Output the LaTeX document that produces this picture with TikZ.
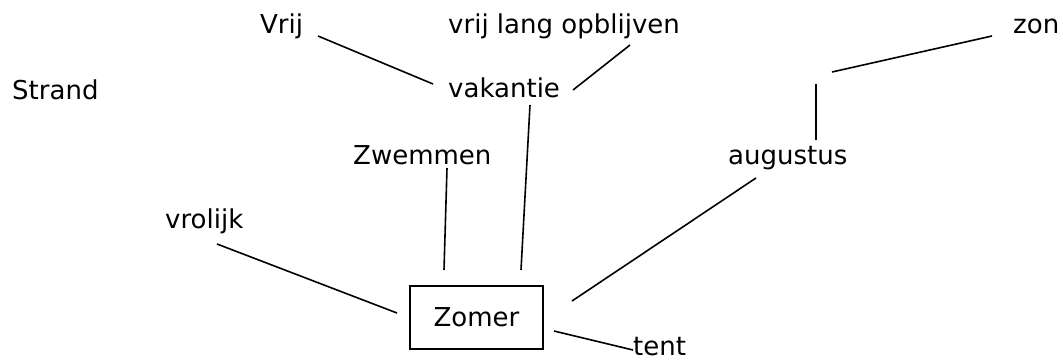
\documentclass[tikz,border=0pt]{standalone}
\usepackage{fontspec}
\setmainfont{DejaVu Sans}
\begin{document}
\begin{tikzpicture}[x=1pt,y=-1pt,
  lbl/.style={anchor=base west,inner sep=0pt,font=\fontsize{26}{30}\selectfont},
  conn/.style={line width=1.6pt,black},
  boxed/.style={draw,line width=1.4pt,minimum width=133pt,minimum height=63pt,inner sep=0pt,font=\fontsize{26}{30}\selectfont}]
\useasboundingbox (0,0) rectangle (1063,359);
\node[lbl] (vrij) at (260,33) {Vrij};
\node[lbl] (lang) at (448,33) {vrij lang opblijven};
\node[lbl] (zon) at (1013,33) {zon};
\node[lbl] (strand) at (12,99) {Strand};
\node[lbl] (vakantie) at (448,97) {vakantie};
\node[lbl] (zwemmen) at (353,164) {Zwemmen};
\node[lbl] (augustus) at (728,164) {augustus};
\node[lbl] (vrolijk) at (165,228) {vrolijk};
\node[boxed] (zomer) at (476.5,317.5) {Zomer};
\node[lbl] (tent) at (633,355) {tent};
% connector end points
\coordinate (a1) at (318,36); \coordinate (a2) at (433,84);
\coordinate (b1) at (573,90); \coordinate (b2) at (630,45);
\coordinate (c1) at (530,105); \coordinate (c2) at (521,270);
\coordinate (d1) at (447,168); \coordinate (d2) at (444,270);
\coordinate (e1) at (217,244); \coordinate (e2) at (397,313);
\coordinate (f1) at (756,178); \coordinate (f2) at (572,301);
\coordinate (g1) at (816,140); \coordinate (g2) at (816,84);
\coordinate (h1) at (832,72); \coordinate (h2) at (992,36);
\coordinate (i1) at (554,331); \coordinate (i2) at (633,350);
\draw[conn] (a1) -- (a2);
\draw[conn] (b1) -- (b2);
\draw[conn] (c1) -- (c2);
\draw[conn] (d1) -- (d2);
\draw[conn] (e1) -- (e2);
\draw[conn] (f1) -- (f2);
\draw[conn] (g1) -- (g2);
\draw[conn] (h1) -- (h2);
\draw[conn] (i1) -- (i2);
\end{tikzpicture}
\end{document}
